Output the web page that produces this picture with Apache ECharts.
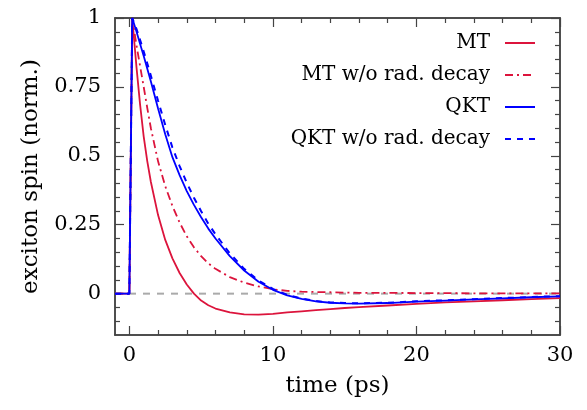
<!DOCTYPE html>
<html>
<head>
  <meta charset="utf-8">
  <script src="https://cdn.jsdelivr.net/npm/echarts@6/dist/echarts.min.js"></script>
  <style>
    html, body { margin: 0; padding: 0; background: #ffffff; }
  </style>
</head>
<body>
  <div id="main" style="width: 587px; height: 410px;"></div>
  <script>
    // time axis (ps) shared by all curves
    var times = [-1, 0, 0.2, 0.5, 0.75, 1, 1.25, 1.5, 2, 2.5, 3, 3.5, 4, 4.5, 5, 5.5, 6, 7, 8, 9, 10,
                 11, 12, 13, 14, 15, 16, 18, 20, 22, 24, 26, 28, 30];

    var mt = [0, 0, 1, 0.82, 0.685, 0.57, 0.48, 0.405, 0.285, 0.195, 0.128, 0.075, 0.033, 0,
              -0.025, -0.042, -0.054, -0.068, -0.075, -0.076, -0.073, -0.068, -0.064, -0.06,
              -0.056, -0.052, -0.049, -0.043, -0.037, -0.032, -0.028, -0.024, -0.02, -0.016];
    var mtNoRad = [0, 0, 1, 0.9, 0.825, 0.75, 0.673, 0.6, 0.48, 0.39, 0.318, 0.258, 0.208, 0.168,
                   0.136, 0.11, 0.09, 0.06, 0.04, 0.026, 0.016, 0.01, 0.007, 0.006, 0.005,
                   0.004, 0.003, 0.003, 0.002, 0.002, 0.001, 0.001, 0.001, 0.001];
    var qkt = [0, 0, 1, 0.95, 0.906, 0.862, 0.816, 0.77, 0.672, 0.578, 0.495, 0.43, 0.372, 0.322,
               0.277, 0.236, 0.2, 0.136, 0.084, 0.043, 0.014, -0.006, -0.019, -0.028, -0.033,
               -0.035, -0.036, -0.034, -0.029, -0.025, -0.021, -0.017, -0.013, -0.01];
    var qktNoRad = [0, 0, 1, 0.96, 0.92, 0.878, 0.835, 0.79, 0.7, 0.612, 0.53, 0.463, 0.402,
                    0.348, 0.299, 0.254, 0.215, 0.146, 0.09, 0.047, 0.017, -0.004, -0.018,
                    -0.027, -0.032, -0.034, -0.035, -0.033, -0.028, -0.024, -0.02, -0.016,
                    -0.012, -0.009];

    var seriesNames = ['MT', 'MT w/o rad. decay', 'QKT', 'QKT w/o rad. decay'];

    // ticks
    var xMajor = [0, 10, 20, 30];
    var xMinor = [2, 4, 6, 8, 12, 14, 16, 18, 22, 24, 26, 28];
    var yMajor = [0, 0.25, 0.5, 0.75, 1];
    var yMinor = [-0.1, -0.05, 0.05, 0.1, 0.15, 0.2, 0.3, 0.35, 0.4, 0.45,
                  0.55, 0.6, 0.65, 0.7, 0.8, 0.85, 0.9, 0.95];
    var xMin = -1, xMax = 30, yMin = -0.15, yMax = 1;

    var font = 'DejaVu Serif';
    var red = '#dc143c', blue = '#0000ff';

    function pairs(vals) {
      return times.map(function (t, i) { return [t, vals[i]]; });
    }

    function xAx(pos, ticks, len, label, name) {
      return {
        type: 'value', min: xMin, max: xMax, position: pos,
        name: name || '', nameLocation: 'middle', nameGap: 40,
        nameTextStyle: { fontFamily: font, fontSize: 23, color: '#000' },
        axisLine: { show: true, onZero: false, lineStyle: { color: '#444', width: 1.5 } },
        axisTick: { show: true, inside: true, length: len, customValues: ticks,
                    lineStyle: { color: '#444', width: 1.2 } },
        axisLabel: { show: label, customValues: ticks, margin: 10,
                     fontFamily: font, fontSize: 21, color: '#000' },
        splitLine: { show: false }
      };
    }
    function yAx(pos, ticks, len, label, name) {
      return {
        type: 'value', min: yMin, max: yMax, position: pos,
        name: name || '', nameLocation: 'middle', nameGap: 72,
        nameTextStyle: { fontFamily: font, fontSize: 23, color: '#000' },
        axisLine: { show: true, onZero: false, lineStyle: { color: '#444', width: 1.5 } },
        axisTick: { show: true, inside: true, length: len, customValues: ticks,
                    lineStyle: { color: '#444', width: 1.2 } },
        axisLabel: { show: label, customValues: ticks, margin: 14,
                     fontFamily: font, fontSize: 21, color: '#000' },
        splitLine: { show: false }
      };
    }

    var chart = echarts.init(document.getElementById('main'));
    var line = function (name, vals, color, type, w) {
      return {
        name: name, type: 'line', data: pairs(vals), xAxisIndex: 0, yAxisIndex: 0,
        showSymbol: false, symbol: 'circle', symbolSize: 0,
        lineStyle: { color: color, width: w, type: type },
        itemStyle: { color: color }, z: 3
      };
    };

    chart.setOption({
      animation: false,
      grid: { left: 115, right: 27, top: 18, bottom: 75 },
      legend: {
        data: seriesNames, orient: 'vertical', align: 'right', padding: 0,
        right: 51, top: 33, itemWidth: 30, itemHeight: 20, itemGap: 12,
        itemStyle: { opacity: 0 },
        textStyle: { fontFamily: font, fontSize: 20, color: '#000', padding: [0, 10, 0, 0] }
      },
      xAxis: [
        xAx('bottom', xMajor, 9, true, 'time (ps)'),
        xAx('bottom', xMinor, 5, false),
        xAx('top', xMajor, 9, false),
        xAx('top', xMinor, 5, false)
      ],
      yAxis: [
        yAx('left', yMajor, 9, true, 'exciton spin (norm.)'),
        yAx('left', yMinor, 5, false),
        yAx('right', yMajor, 9, false),
        yAx('right', yMinor, 5, false)
      ],
      series: [
        {
          name: 'zero', type: 'line', data: [[xMin, 0], [xMax, 0]],
          showSymbol: false, symbol: 'none', silent: true, z: 2,
          lineStyle: { color: '#aaaaaa', width: 2, type: [7, 7] }
        },
        line(seriesNames[0], mt, red, 'solid', 1.8),
        line(seriesNames[1], mtNoRad, red, [8, 4, 2, 4], 1.8),
        line(seriesNames[2], qkt, blue, 'solid', 1.8),
        line(seriesNames[3], qktNoRad, blue, [6, 6], 2)
      ]
    });
  </script>
</body>
</html>
